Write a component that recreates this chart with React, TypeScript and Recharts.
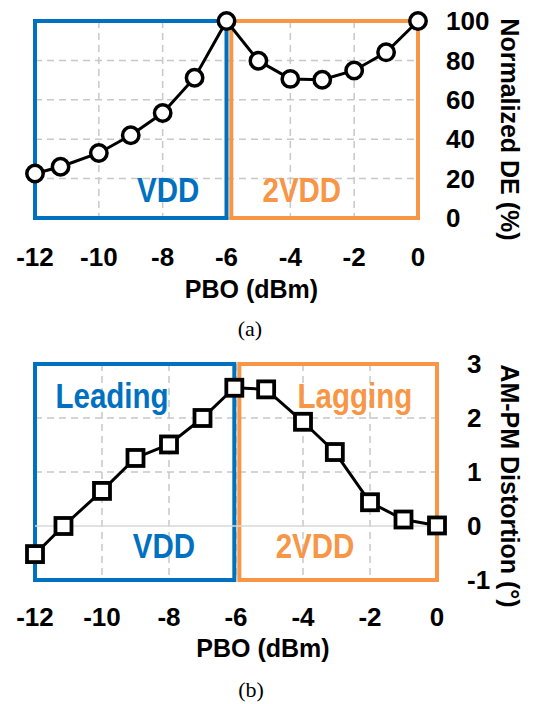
import React from 'react';
import { LineChart, Line, XAxis, YAxis, CartesianGrid, ReferenceArea, ReferenceDot, ReferenceLine } from 'recharts';

// (a) normalized drain efficiency vs back-off
const pboDE = [-12, -11.2, -10, -9, -8, -7, -6, -5, -4, -3, -2, -1, 0];
const normDE = [22.6, 26, 33, 42, 53.3, 71.2, 100, 79.8, 70.6, 70.2, 74.9, 84.1, 100];

// (b) AM-PM distortion vs back-off
const pboPM = [-12, -11.15, -10, -9, -8, -7, -6.05, -5.1, -4, -3.05, -2, -1, 0];
const amPm = [-0.52, 0, 0.65, 1.26, 1.51, 2.0, 2.56, 2.53, 1.93, 1.37, 0.44, 0.12, 0.01];

const xTicks = [-12, -10, -8, -6, -4, -2, 0];
const deTicks = [0, 20, 40, 60, 80, 100];
const pmTicks = [-1, 0, 1, 2, 3];

const BLUE = '#0070C0';
const ORANGE = '#F79646';
const GRID = '#C8C8C8';
const SANS = "'Liberation Sans', Arial, sans-serif";

const deData = pboDE.map((x, i) => ({ x, v: normDE[i] }));
const pmData = pboPM.map((x, i) => ({ x, v: amPm[i] }));

const tickStyle = { fontFamily: SANS, fontSize: 26, fontWeight: 'bold', fill: '#000' };

// condensed bold box label (no narrow font installed, so squeeze horizontally)
const boxLabel = (value: string, color: string) => ({
  content: (props: any) => {
    const vb = props.viewBox;
    const cx = vb.x + vb.width / 2;
    const cy = vb.y + vb.height / 2;
    return (
      <text
        transform={`translate(${cx}, ${cy}) scale(0.82, 1)`}
        x={0}
        y={0}
        dy="0.36em"
        textAnchor="middle"
        fontFamily={SANS}
        fontSize={36}
        fontWeight="bold"
        fill={color}
      >
        {value}
      </text>
    );
  },
});

const CircleDot = (p: any) => (
  <circle key={`c${p.index}`} cx={p.cx} cy={p.cy} r={8.2} fill="#fff" stroke="#000" strokeWidth={3.5} />
);
const SquareDot = (p: any) => (
  <rect key={`s${p.index}`} x={p.cx - 8} y={p.cy - 8} width={16} height={16} fill="#fff" stroke="#000" strokeWidth={3.8} />
);

const xTitle = (dx: number, dy: number) => (props: any) => {
  const vb = props.viewBox;
  return (
    <text x={vb.x + vb.width / 2 + dx} y={vb.y + dy} textAnchor="middle" fontFamily={SANS} fontSize={25} fontWeight="bold" fill="#000">
      PBO (dBm)
    </text>
  );
};

const yTitle = (text: string, dx: number, dy: number) => (props: any) => {
  const vb = props.viewBox;
  const x = vb.x + dx;
  const y = vb.y + vb.height / 2 + dy;
  return (
    <text x={x} y={y} transform={`rotate(90, ${x}, ${y})`} textAnchor="middle" dominantBaseline="central" fontFamily={SANS} fontSize={25} fontWeight="bold" fill="#000">
      {text}
    </text>
  );
};

export default function App() {
  return (
    <div style={{ position: 'absolute', left: 0, top: 0, width: 535, height: 704, background: '#fff' }}>
      <div style={{ position: 'absolute', left: 0, top: 0 }}>
        <LineChart width={535} height={340} data={deData} margin={{ top: 21, right: 17, left: 35, bottom: 62 }}>
          <CartesianGrid stroke={GRID} strokeWidth={1.5} strokeDasharray="7 5" />
          <XAxis
            dataKey="x"
            type="number"
            domain={[-12, 0]}
            ticks={xTicks}
            height={60}
            axisLine={false}
            tickLine={false}
            tickSize={0}
            tickMargin={30}
            tick={tickStyle}
            label={{ content: xTitle(25, 80) }}
          />
          <YAxis
            orientation="right"
            type="number"
            domain={[0, 100]}
            ticks={deTicks}
            width={100}
            axisLine={false}
            tickLine={false}
            tickSize={0}
            tickMargin={28}
            tick={tickStyle}
            label={{ content: yTitle('Normalized DE (%)', 92, 10) }}
          />
          <ReferenceArea x1={-12} x2={-6} y1={0} y2={100} fill="none" stroke={BLUE} strokeWidth={4} />
          <ReferenceArea x1={-5.85} x2={0} y1={0} y2={100} fill="none" stroke={ORANGE} strokeWidth={4} />
          <ReferenceDot x={-7.83} y={14.7} r={1} fill="none" stroke="none" label={boxLabel('VDD', BLUE)} />
          <ReferenceDot x={-3.64} y={14.7} r={1} fill="none" stroke="none" label={boxLabel('2VDD', ORANGE)} />
          <Line type="linear" dataKey="v" stroke="#000" strokeWidth={3} dot={CircleDot} isAnimationActive={false} />
        </LineChart>
      </div>
      <div style={{ position: 'absolute', left: 0, top: 340 }}>
        <LineChart width={535} height={364} data={pmData} margin={{ top: 24, right: 8, left: 35, bottom: 64 }}>
          <CartesianGrid stroke={GRID} strokeWidth={1.5} strokeDasharray="7 5" horizontalValues={[1, 2]} />
          <ReferenceLine y={0} stroke="#D9D9D9" strokeWidth={1.5} />
          <XAxis
            dataKey="x"
            type="number"
            domain={[-12, 0]}
            ticks={xTicks}
            height={60}
            axisLine={false}
            tickLine={false}
            tickSize={0}
            tickMargin={27.5}
            tick={tickStyle}
            label={{ content: xTitle(27, 77) }}
          />
          <YAxis
            orientation="right"
            type="number"
            domain={[-1, 3]}
            ticks={pmTicks}
            width={90}
            axisLine={false}
            tickLine={false}
            tickSize={0}
            tickMargin={30}
            tick={tickStyle}
            label={{ content: yTitle('AM-PM Distortion (°)', 73, 14) }}
          />
          <ReferenceArea x1={-12} x2={-6.05} y1={-1} y2={3} fill="none" stroke={BLUE} strokeWidth={4} />
          <ReferenceArea x1={-5.9} x2={0} y1={-1} y2={3} fill="none" stroke={ORANGE} strokeWidth={4} />
          <ReferenceDot x={-9.7} y={2.43} r={1} fill="none" stroke="none" label={boxLabel('Leading', BLUE)} />
          <ReferenceDot x={-2.45} y={2.43} r={1} fill="none" stroke="none" label={boxLabel('Lagging', ORANGE)} />
          <ReferenceDot x={-8.15} y={-0.35} r={1} fill="none" stroke="none" label={boxLabel('VDD', BLUE)} />
          <ReferenceDot x={-3.64} y={-0.35} r={1} fill="none" stroke="none" label={boxLabel('2VDD', ORANGE)} />
          <Line type="linear" dataKey="v" stroke="#000" strokeWidth={3} dot={SquareDot} isAnimationActive={false} />
        </LineChart>
      </div>
      <svg width={535} height={704} style={{ position: 'absolute', left: 0, top: 0, pointerEvents: 'none' }}>
        <text x={250} y={336} textAnchor="middle" fontFamily="'Liberation Serif', 'Times New Roman', serif" fontSize={22} fill="#000">
          (a)
        </text>
        <text x={251} y={697} textAnchor="middle" fontFamily="'Liberation Serif', 'Times New Roman', serif" fontSize={22} fill="#000">
          (b)
        </text>
      </svg>
    </div>
  );
}
